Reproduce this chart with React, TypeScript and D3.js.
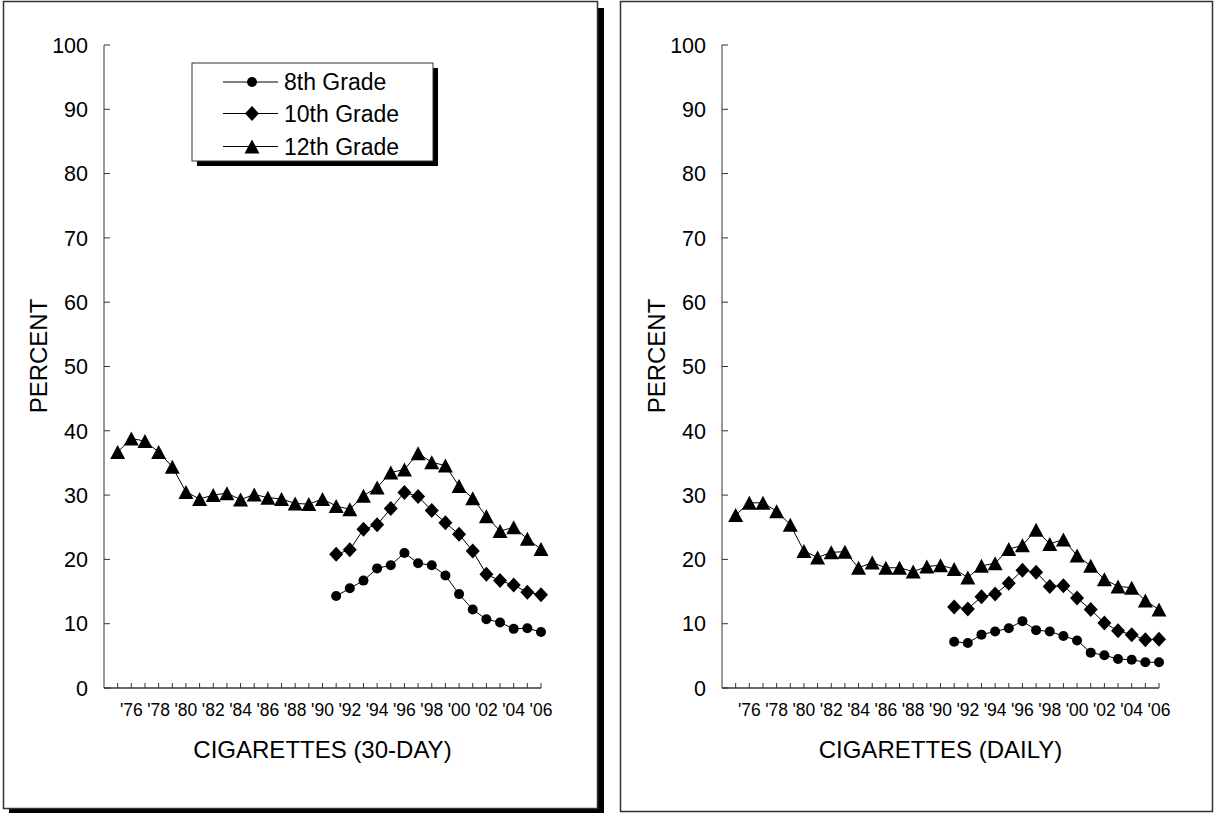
import React from "react";
import * as d3 from "d3";

const yearsAll = [1975, 1976, 1977, 1978, 1979, 1980, 1981, 1982, 1983, 1984, 1985, 1986, 1987, 1988, 1989, 1990, 1991, 1992, 1993, 1994, 1995, 1996, 1997, 1998, 1999, 2000, 2001, 2002, 2003, 2004, 2005, 2006];
const yearsLate = [1991, 1992, 1993, 1994, 1995, 1996, 1997, 1998, 1999, 2000, 2001, 2002, 2003, 2004, 2005, 2006];

// 30-day prevalence
const g12Month = [36.7, 38.8, 38.4, 36.7, 34.4, 30.5, 29.4, 30.0, 30.3, 29.3, 30.1, 29.6, 29.4, 28.7, 28.6, 29.4, 28.3, 27.8, 29.9, 31.2, 33.5, 34.0, 36.5, 35.1, 34.6, 31.4, 29.5, 26.7, 24.4, 25.0, 23.2, 21.6];
const g10Month = [20.8, 21.5, 24.7, 25.4, 27.9, 30.4, 29.8, 27.6, 25.7, 23.9, 21.3, 17.7, 16.7, 16.0, 14.9, 14.5];
const g8Month = [14.3, 15.5, 16.7, 18.6, 19.1, 21.0, 19.4, 19.1, 17.5, 14.6, 12.2, 10.7, 10.2, 9.2, 9.3, 8.7];

// daily prevalence
const g12Daily = [26.9, 28.8, 28.8, 27.5, 25.4, 21.3, 20.3, 21.1, 21.2, 18.7, 19.5, 18.7, 18.7, 18.1, 18.9, 19.1, 18.5, 17.2, 19.0, 19.4, 21.6, 22.2, 24.6, 22.4, 23.1, 20.6, 19.0, 16.9, 15.8, 15.6, 13.6, 12.2];
const g10Daily = [12.6, 12.3, 14.2, 14.6, 16.3, 18.3, 18.0, 15.8, 15.9, 14.0, 12.2, 10.1, 8.9, 8.3, 7.5, 7.6];
const g8Daily = [7.2, 7.0, 8.3, 8.8, 9.3, 10.4, 9.0, 8.8, 8.1, 7.4, 5.5, 5.1, 4.5, 4.4, 4.0, 4.0];

const yTicks = [0, 10, 20, 30, 40, 50, 60, 70, 80, 90, 100];
const xTickYears = [1976, 1978, 1980, 1982, 1984, 1986, 1988, 1990, 1992, 1994, 1996, 1998, 2000, 2002, 2004, 2006];
const xTickLabels = ["'76", "'78", "'80", "'82", "'84", "'86", "'88", "'90", "'92", "'94", "'96", "'98", "'00", "'02", "'04", "'06"];
const legendLabels = ["8th Grade", "10th Grade", "12th Grade"];

const FONT = "Arial, 'Liberation Sans', Helvetica, sans-serif";
const AXIS = "#333";

const triPath = "M0,-7L7.5,7L-7.5,7Z";
const diaPath = "M0,-7.5L7,0L0,7.5L-7,0Z";

function Marker({ kind, x, y }: { kind: string; x: number; y: number }) {
  if (kind === "circle") return <circle cx={x} cy={y} r={5} fill="#000" />;
  if (kind === "diamond") return <path d={diaPath} transform={`translate(${x},${y})`} fill="#000" />;
  return <path d={triPath} transform={`translate(${x},${y})`} fill="#000" />;
}

function Series({ xs, ys, kind, x, y }: any) {
  const line = d3
    .line<number>()
    .x((_, i) => x(xs[i]))
    .y((v) => y(v));
  return (
    <g>
      <path d={line(ys) || ""} fill="none" stroke="#000" strokeWidth={1} />
      {ys.map((v: number, i: number) => (
        <Marker key={i} kind={kind} x={x(xs[i])} y={y(v)} />
      ))}
    </g>
  );
}

function Chart({ left, title, d8, d10, d12 }: any) {
  const x = d3.scaleLinear().domain([1974, 2006]).range([left, left + 437]);
  const y = d3.scaleLinear().domain([0, 100]).range([688, 45]);
  const cx = left + 218.5;
  return (
    <g fontFamily={FONT}>
      <line x1={left} x2={left} y1={y(100)} y2={y(0)} stroke={AXIS} strokeWidth={1} />
      {yTicks.map((t) => (
        <g key={t}>
          <line x1={left} x2={left + 6} y1={y(t)} y2={y(t)} stroke={AXIS} strokeWidth={1} />
          <text x={left - 16} y={y(t)} dy="0.36em" textAnchor="end" fontSize={21.5} fill="#000">
            {t}
          </text>
        </g>
      ))}
      <line x1={left} x2={x(2006)} y1={y(0)} y2={y(0)} stroke={AXIS} strokeWidth={1.5} />
      {yearsAll.map((yr) => (
        <line key={yr} x1={x(yr)} x2={x(yr)} y1={y(0)} y2={y(0) - 5} stroke={AXIS} strokeWidth={1} />
      ))}
      {xTickYears.map((yr, i) => (
        <text key={yr} x={x(yr)} y={716} textAnchor="middle" fontSize={17.5} fill="#000">
          {xTickLabels[i]}
        </text>
      ))}
      <text x={cx} y={758} textAnchor="middle" fontSize={24} fill="#000">
        {title}
      </text>
      <text transform={`translate(${left - 57},356) rotate(-90)`} textAnchor="middle" fontSize={24} fill="#000">
        PERCENT
      </text>
      <Series xs={yearsAll} ys={d12} kind="triangle" x={x} y={y} />
      <Series xs={yearsLate} ys={d10} kind="diamond" x={x} y={y} />
      <Series xs={yearsLate} ys={d8} kind="circle" x={x} y={y} />
    </g>
  );
}

function Legend() {
  const kinds = ["circle", "diamond", "triangle"];
  const rowsY = [82, 113.5, 146.5];
  return (
    <g fontFamily={FONT}>
      <rect x={197} y={68} width={241} height={98} fill="#000" />
      <rect x={192} y={63} width={241} height={98} fill="#fff" stroke={AXIS} strokeWidth={1} />
      {legendLabels.map((lab, i) => (
        <g key={lab}>
          <line x1={223} x2={278} y1={rowsY[i]} y2={rowsY[i]} stroke="#000" strokeWidth={1} />
          <Marker kind={kinds[i]} x={252} y={rowsY[i]} />
          <text x={284} y={rowsY[i]} dy="0.36em" fontSize={23} fill="#000">
            {lab}
          </text>
        </g>
      ))}
    </g>
  );
}

export default function App() {
  return (
    <svg
      width={1215}
      height={813}
      style={{ position: "fixed", left: 0, top: 0, background: "#fff" }}
    >
      <rect x={0} y={0} width={1215} height={813} fill="#fff" />
      <rect x={9} y={8} width={595} height={810} fill="#000" />
      <rect x={3.5} y={1.5} width={594} height={807} fill="#fff" stroke={AXIS} strokeWidth={1.5} />
      <rect x={620.5} y={1.5} width={592} height={810} fill="#fff" stroke={AXIS} strokeWidth={1.5} />
      <Chart left={104} title="CIGARETTES (30-DAY)" d8={g8Month} d10={g10Month} d12={g12Month} />
      <Chart left={722} title="CIGARETTES (DAILY)" d8={g8Daily} d10={g10Daily} d12={g12Daily} />
      <Legend />
    </svg>
  );
}
